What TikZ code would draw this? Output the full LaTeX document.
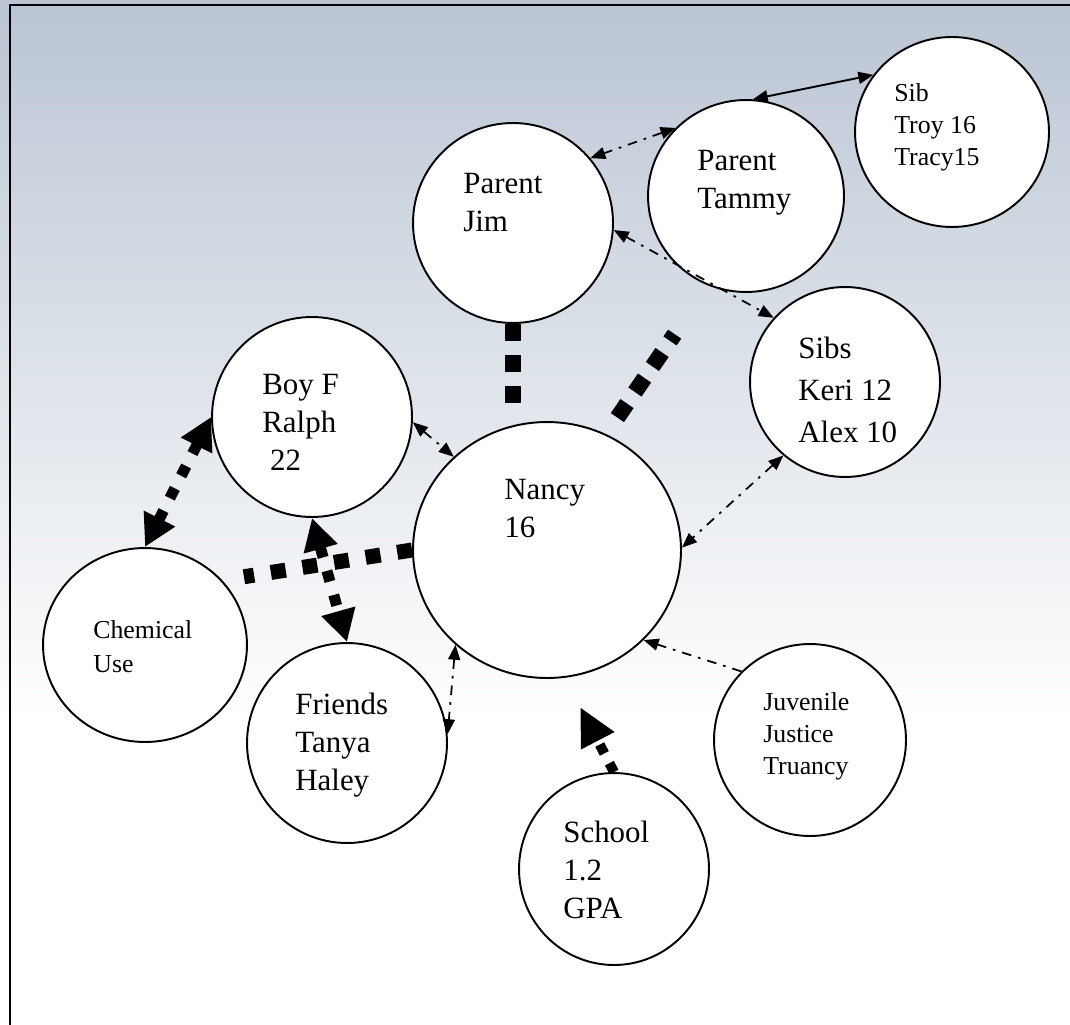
\documentclass[tikz,border=0pt]{standalone}
\usepackage{fontspec}
\setmainfont{Liberation Serif}
\usetikzlibrary{arrows.meta,shapes.geometric}
\definecolor{skytop}{RGB}{186,197,211}

\tikzset{
	oval/.style={ellipse, draw, fill=white, line width=1.1pt, inner sep=0pt},
	bigtxt/.style={font=\fontsize{17.6}{21.6}\selectfont, align=left, anchor=north west, inner sep=0pt},
	smalltxt/.style={font=\fontsize{14.7}{18.4}\selectfont, align=left, anchor=north west, inner sep=0pt},
	thintip/.style={arrows={Triangle[length=0.3cm,width=0.24cm]-Triangle[length=0.3cm,width=0.24cm]}},
	dashdot/.style={line width=1pt, dash pattern=on 5.5pt off 4pt on 1.5pt off 4pt},
	heavy/.style={line width=0.32cm, dash pattern=on 0.34cm off 0.28cm},
	medium/.style={line width=0.3cm, dash pattern=on 0.3cm off 0.34cm},
	light/.style={line width=0.22cm, dash pattern=on 0.22cm off 0.28cm},
	bigtip/.style={arrows={Triangle[length=0.64cm,width=0.66cm]-Triangle[length=0.64cm,width=0.66cm]}}
}

\begin{document}
\begin{tikzpicture}[x=0.02cm, y=-0.02cm]
	\useasboundingbox (0,0) rectangle (1070,1024);
	%%  background and frame  %%%%%%%%
	\begin{scope}
		\clip (0,0) rectangle (1070,1024);
		\shade[top color=skytop, bottom color=white] (0,0) rectangle (1070,720);
		\fill[white] (0,720) rectangle (1070,1024);
		\draw[line width=0.05cm] (10,1040) -- (10,5) -- (1090,5);
	\end{scope}

	%%  circles  %%%%%%%%
	\node[oval, minimum width=3.88cm, minimum height=3.8cm] (sib) at (952,132) {};
	\node[oval, minimum width=3.92cm, minimum height=3.84cm] (tammy) at (746,196) {};
	\node[oval, minimum width=4cm, minimum height=4cm] (jim) at (513,223) {};
	\node[oval, minimum width=3.8cm, minimum height=3.8cm] (sibs) at (845,382) {};
	\node[oval, minimum width=4cm, minimum height=4cm] (boyf) at (312,417) {};
	\node[oval, minimum width=5.36cm, minimum height=5.12cm] (nancy) at (547,550) {};
	\node[oval, minimum width=4.08cm, minimum height=3.88cm] (chemical) at (145,645) {};
	\node[oval, minimum width=4cm, minimum height=4cm] (friends) at (347,743) {};
	\node[oval, minimum width=3.84cm, minimum height=3.84cm] (juvenile) at (810,740) {};
	\node[oval, minimum width=3.8cm, minimum height=3.84cm] (school) at (614,869) {};

	%%  texts  %%%%%%%%
	\node[smalltxt] (sibtxt) at (894,83) {Sib\\Troy 16\\Tracy15};
	\node[bigtxt] (tammytxt) at (697,150) {Parent\\Tammy};
	\node[bigtxt] (jimtxt) at (463,173) {Parent\\Jim};
	\node[bigtxt, font=\fontsize{17.6}{23.8}\selectfont] (sibstxt) at (798,337) {Sibs\\Keri 12\\Alex 10};
	\node[bigtxt] (boyftxt) at (262,374) {Boy F\\Ralph\\\ 22};
	\node[bigtxt] (nancytxt) at (504,479) {Nancy\\16};
	\node[smalltxt, font=\fontsize{14.7}{19.3}\selectfont] (chemtxt) at (93,620) {Chemical\\Use};
	\node[bigtxt] (friendstxt) at (295,693) {Friends\\Tanya\\Haley};
	\node[smalltxt] (juvtxt) at (763,692) {Juvenile\\Justice\\Truancy};
	\node[bigtxt] (schooltxt) at (563,821) {School\\1.2\\GPA};

	%%  links  %%%%%%%%
	\draw[line width=1.1pt, thintip] (sib.144) -- (tammy.86);
	\draw[dashdot, thintip] (tammy.136) -- (jim.40);
	\draw[dashdot, thintip] (jim.356) -- (sibs.138);
	\draw[dashdot, thintip] (boyf.357) -- (nancy.135);
	\draw[dashdot, thintip] (nancy.226) -- (friends.5);
	\draw[dashdot, thintip] (sibs.230) -- (nancy.1);
	\draw[dashdot, -{Triangle[length=0.3cm,width=0.24cm]}] (juvenile.135) -- (nancy.317);

	\draw[heavy, shorten >=0.34cm] (jim.south) -- (jim.south |- nancy.north);
	\draw[heavy, shorten <=0.4cm, shorten >=1.18cm] (nancy.63) -- (tammy.247);
	\draw[medium, shorten >=0.44cm] (nancy.west) -- (chemical.40);
	\draw[light, bigtip] (boyf.west) -- (chemical.north);
	\draw[light, bigtip] (boyf.south) -- (friends.north);
	\draw[line width=0.2cm, dash pattern=on 0.2cm off 0.22cm, -{Triangle[length=0.76cm,width=0.7cm]}, shorten >=0.66cm] (school.north) -- (nancy.278);
\end{tikzpicture}
\end{document}
